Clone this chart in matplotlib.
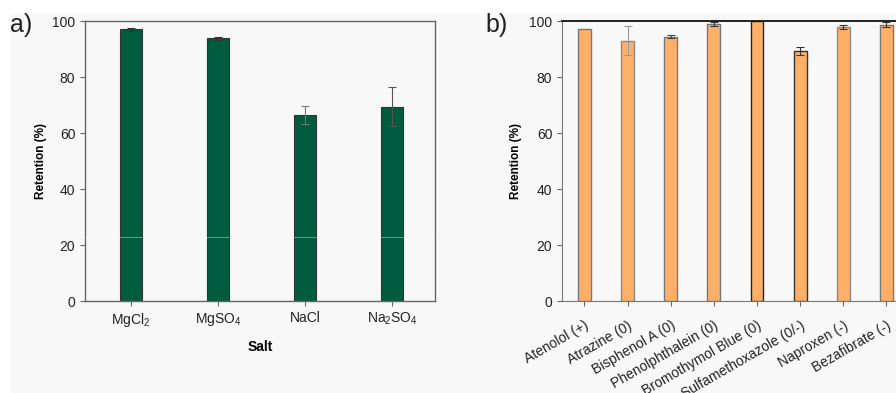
import matplotlib.pyplot as plt
import matplotlib.patches as patches

plt.rcParams['font.family'] = ['Liberation Sans', 'DejaVu Sans']
plt.rcParams['mathtext.fontset'] = 'custom'
plt.rcParams['mathtext.rm'] = 'Liberation Sans'
plt.rcParams['mathtext.default'] = 'rm'

# Panel a: salts
salts = ['MgCl$_2$', 'MgSO$_4$', 'NaCl', 'Na$_2$SO$_4$']
salt_retention = [97.0, 93.8, 66.5, 69.4]
salt_err = [0.4, 0.6, 3.1, 6.9]

# Panel b: micropollutants
compounds = ['Atenolol (+)', 'Atrazine (0)', 'Bisphenol A (0)', 'Phenolphthalein (0)',
             'Bromothymol Blue (0)', 'Sulfamethoxazole (0/-)', 'Naproxen (-)', 'Bezafibrate (-)']
comp_retention = [97.1, 93.0, 94.4, 99.0, 100.0, 89.4, 98.0, 98.7]
comp_err = [0.0, 5.1, 0.5, 0.8, 0.0, 1.4, 0.7, 0.9]

yticks = [0, 20, 40, 60, 80, 100]

green = '#005c3e'
orange = '#ffb068'
bg = '#f8f8f8'

fig = plt.figure(figsize=(8.96, 3.93), dpi=100)
fig.patch.set_facecolor('white')
fig.patches.append(patches.Rectangle((10 / 896, 0), 1, 1 - 14 / 393, transform=fig.transFigure,
                                     facecolor=bg, edgecolor='none', zorder=-10))

# ---- panel a
ax1 = fig.add_axes([85 / 896, 0.234, 350 / 896, 0.7125])
ax1.set_facecolor('none')
xa = range(len(salts))
ax1.bar(xa, salt_retention, width=0.25, color=green, edgecolor='#333333', linewidth=0.8, zorder=2)
err_cols_a = ['#333333', '#333333', '#777777', '#555555']
for i in xa:
    ax1.errorbar(i, salt_retention[i], yerr=salt_err[i], fmt='none', ecolor=err_cols_a[i],
                 elinewidth=0.8, capsize=3, capthick=0.8, zorder=3)
ax1.axhline(23, color='white', lw=0.6, alpha=0.45, zorder=4)
ax1.set_xlim(-0.53, 3.49)
ax1.set_ylim(0, 100)
ax1.set_yticks(yticks)
ax1.set_xticks(list(xa))
ax1.set_xticklabels(salts, fontsize=10, color='#222222')
ax1.set_xlabel('Salt', fontsize=10, fontweight='bold', labelpad=8)
ax1.set_ylabel('Retention (%)', fontsize=8.5, fontweight='bold', labelpad=4)
ax1.tick_params(axis='y', labelsize=10, length=3.5, color='#666666', labelcolor='#222222')
ax1.tick_params(axis='x', length=3.5, color='#666666')
for side in ['left', 'bottom', 'top', 'right']:
    ax1.spines[side].set_color('#666666')
    ax1.spines[side].set_linewidth(1.0)
fig.text(10 / 896, 1 - 25 / 393, 'a)', fontsize=18, ha='left', va='center', color='#222222')

# ---- panel b
ax2 = fig.add_axes([562 / 896, 0.234, 346 / 896, 0.7125])
ax2.set_facecolor('none')
xb = range(len(compounds))
edge_b = ['#777777', '#888888', '#777777', '#777777', '#222222', '#333333', '#888888', '#777777']
err_b = ['#333333', '#999999', '#444444', '#333333', '#333333', '#333333', '#333333', '#333333']
ax2.bar(xb, comp_retention, width=0.30, color=orange, edgecolor=edge_b, linewidth=1.0, zorder=2)
for i in xb:
    if comp_err[i] > 0:
        ax2.errorbar(i, comp_retention[i], yerr=comp_err[i], fmt='none', ecolor=err_b[i],
                     elinewidth=0.8, capsize=3, capthick=0.8, zorder=3)
ax2.set_xlim(-0.52, 7.5)
ax2.set_ylim(0, 100)
ax2.set_yticks(yticks)
ax2.set_xticks(list(xb))
ax2.set_xticklabels(compounds, fontsize=10, rotation=30, ha='right', rotation_mode='anchor',
                    color='#222222')
ax2.set_ylabel('Retention (%)', fontsize=8.5, fontweight='bold', labelpad=5)
ax2.tick_params(axis='y', labelsize=10, length=3.5, color='#666666', labelcolor='#222222')
ax2.tick_params(axis='x', length=3.5, pad=9, color='#666666')
for side in ['left', 'bottom', 'right']:
    ax2.spines[side].set_color('#777777')
ax2.spines['top'].set_color('#111111')
ax2.spines['top'].set_linewidth(1.3)
fig.text(485 / 896, 1 - 25 / 393, 'b)', fontsize=18, ha='left', va='center', color='#222222')

fig.savefig('out.png', dpi=100)
